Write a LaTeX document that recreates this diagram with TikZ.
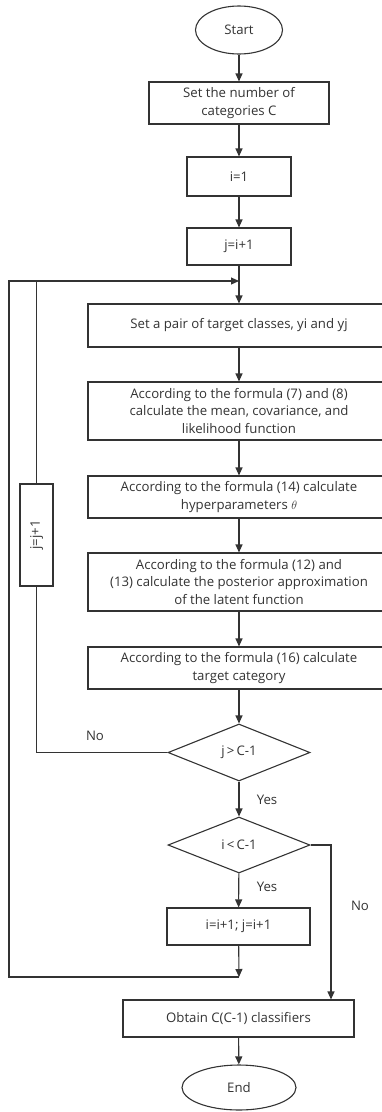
\documentclass[tikz,border=0pt]{standalone}
\usepackage{fontspec}
\setmainfont{Open Sans}
\usetikzlibrary{arrows.meta,shapes.geometric}
\definecolor{ink}{HTML}{333333}
\tikzset{
  box/.style={draw=ink, rectangle, align=center, inner sep=0pt},
  term/.style={draw=ink, ellipse, inner sep=0pt},
  test/.style={draw=ink, diamond, inner sep=0pt},
  lbl/.style={inner sep=0pt}
}
\begin{document}
\begin{tikzpicture}[x=1pt,y=-1pt,line width=1.1pt,color=ink,
  every node/.style={font=\fontsize{13.2}{17.5}\selectfont,text=ink},
  >={Triangle[length=8pt,width=7pt]}]
  \useasboundingbox (0,0) rectangle (382,1112);
  \node[term,minimum width=87,minimum height=48] (start) at (239,30) {Start};
  \node[box,minimum width=180,minimum height=42] (ncat) at (239,103)
      {Set the number of\\categories C};
  \node[box,minimum width=104,minimum height=39] (iinit) at (239,176.5) {i=1};
  \node[box,minimum width=104,minimum height=37] (jinit) at (239,246.5) {j=i+1};
  \node[box,minimum width=302,minimum height=43] (pair) at (239,325.5)
      {Set a pair of target classes, yi and yj};
  \node[box,minimum width=302,minimum height=58] (mean) at (239,411)
      {According to the formula (7) and (8)\\calculate the mean, covariance, and\\likelihood function};
  \node[box,minimum width=302,minimum height=42] (hyper) at (239,497)
      {According to the formula (14) calculate\\hyperparameters $\theta$};
  \node[box,minimum width=302,minimum height=58] (post) at (239,582)
      {According to the formula (12) and\\(13) calculate the posterior approximation\\of the latent function};
  \node[box,minimum width=302,minimum height=42] (target) at (239,668)
      {According to the formula (16) calculate\\target category};
  \node[test,minimum width=142,minimum height=57] (dj) at (239,752.5) {j\,>\,C-1};
  \node[test,minimum width=142,minimum height=56] (di) at (239,845) {i\,<\,C-1};
  \node[box,minimum width=143,minimum height=37] (incr) at (238.5,926.5) {i=i+1; j=i+1};
  \node[box,minimum width=231,minimum height=37] (obtain) at (238.5,1018.5)
      {Obtain C(C-1) classifiers};
  \node[term,minimum width=114,minimum height=45] (stop) at (239,1087.5) {End};
  \node[box,minimum width=102,minimum height=33,rotate=90] (jloop) at (36.5,535) {j=j+1};
  \node[lbl] (no1) at (95,736) {No};
  \node[lbl] (yes1) at (267,800) {Yes};
  \node[lbl] (yes2) at (267,887) {Yes};
  \node[lbl] (no2) at (360,906) {No};
  \coordinate (mtop) at (239,281);
  \coordinate (mbot) at (239,977);
  \coordinate (ltop) at (9,281);
  \coordinate (lbot) at (9,977);
  \coordinate (rturn) at (331,845);
  \draw[->] (start) -- (ncat);
  \draw[->] (ncat) -- (iinit);
  \draw[->] (iinit) -- (jinit);
  \draw (jinit) -- (mtop);
  \draw[->] (mtop) -- (pair);
  \draw[->] (pair) -- (mean);
  \draw[->] (mean) -- (hyper);
  \draw[->] (hyper) -- (post);
  \draw[->] (post) -- (target);
  \draw[->] (target) -- (dj);
  \draw (dj.west) -- (dj.west -| jloop) -- (jloop);
  \draw (jloop) -- (jloop |- mtop);
  \draw[->] (dj) -- (di);
  \draw[->] (di) -- (incr);
  \draw[->] (incr) -- (mbot);
  \draw[->] (mbot) -- (lbot) -- (ltop) -- (mtop);
  \draw[->] (di.east) -- (rturn) -- (rturn |- obtain.north);
  \draw[->] (obtain) -- (stop);
\end{tikzpicture}
\end{document}
